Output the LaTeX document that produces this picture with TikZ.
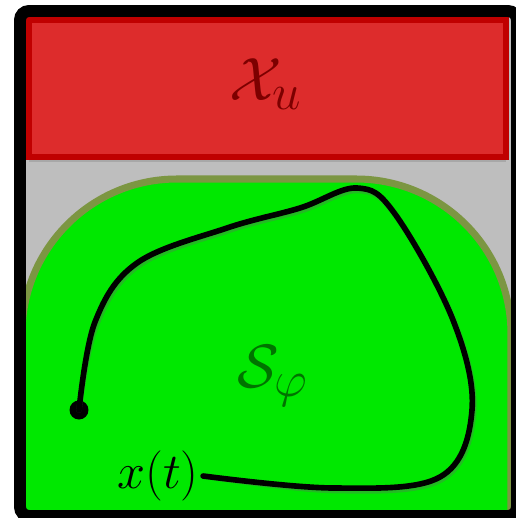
\documentclass[tikz,border=0pt]{standalone}
\usepackage{amsmath}
\usetikzlibrary{shadows,positioning}

\definecolor{unsafefill}{RGB}{221,44,44}
\definecolor{unsafeedge}{RGB}{192,0,0}
\definecolor{unsafetext}{RGB}{125,0,0}
\definecolor{safefill}{RGB}{0,232,0}
\definecolor{safeedge}{RGB}{124,150,66}
\definecolor{safetext}{RGB}{0,115,0}
\definecolor{statespace}{RGB}{190,190,190}

\begin{document}
\begin{tikzpicture}[x=0.02cm, y=-0.02cm,
    setlabel/.style={font=\Huge, scale=1.4},
    traj/.style={line width=3.2pt, line cap=round}]
    \useasboundingbox (0,0) rectangle (516,518);

    % Draw state space background
    \fill[statespace] (20,11) rectangle (516,518);

    % Draw safe set
    \filldraw[fill=safefill, draw=safeedge, line width=4pt, rounded corners=3.1cm]
      (22,560) -- (22,179) -- (511,179) -- (511,560);

    % Draw unsafe set
    \filldraw[fill=unsafefill, draw=unsafeedge, line width=3.4pt,
      drop shadow={shadow xshift=0pt, shadow yshift=-3pt, opacity=0.35}]
      (29,20) rectangle (506,157);

    % Draw set labels
    \node[setlabel, text=unsafetext] (Xu) at (266,84) {$\mathcal{X}_u$};
    \node[setlabel, text=safetext] (Sphi) at (273,376) {$\mathcal{S}_\varphi$};

    % Draw trajectory start and its label
    \node[circle, fill=black, inner sep=0pt, minimum size=0.38cm] (x0) at (79,410) {};
    \node[font=\Huge, scale=1.15, inner sep=2pt] (xt) at (158,476) {$x(t)$};

    % Draw trajectory (shadow first)
    \draw[traj, black!60, opacity=0.35, shift={(1.5,2.5)}] plot[smooth, tension=0.6] coordinates {
      (x0.center) (95,322) (137,263) (227,228) (300,208) (357,188)
      (395,214) (453,320) (472,410) (440,477) (333,488) (xt.east)};
    \draw[traj] plot[smooth, tension=0.6] coordinates {
      (x0.center) (95,322) (137,263) (227,228) (300,208) (357,188)
      (395,214) (453,320) (472,410) (440,477) (333,488) (xt.east)};

    % Draw outer frame
    \draw[line width=6.8pt, rounded corners=0.18cm] (20,11) rectangle (517,516);

  \end{tikzpicture}
\end{document}
